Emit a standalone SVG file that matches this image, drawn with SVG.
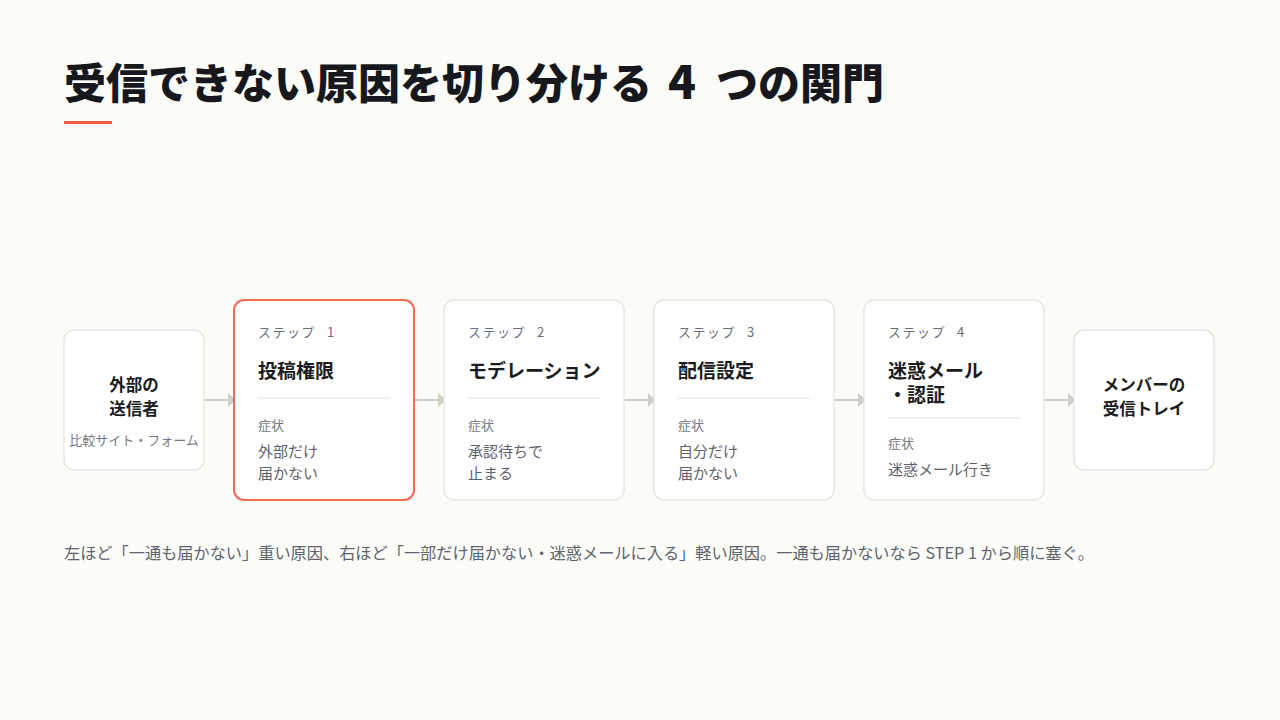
<svg xmlns="http://www.w3.org/2000/svg" width="1280" height="720" viewBox="0 0 1280 720">
<defs>
<style>
text{font-family:"Noto Sans CJK JP","Noto Sans",sans-serif;}
.title{font-size:42px;font-weight:900;fill:#17181d;}
.card{fill:#ffffff;stroke:#e8e8e2;stroke-width:1.5;}
.hl{fill:#ffffff;stroke:#f26a4f;stroke-width:2;}
.lbl{font-size:13px;fill:#6b6e76;letter-spacing:1.5px;}
.h{font-size:19px;font-weight:700;fill:#1b1c21;}
.nh{font-size:16.5px;font-weight:700;fill:#1b1c21;}
.sm{font-size:13px;fill:#777a82;}
.body{font-size:15px;fill:#5f626a;}
.div{stroke:#ececE6;stroke-width:1.5;}
.conn{stroke:#cfcfc7;stroke-width:2;fill:none;}
.cap{font-size:16.2px;fill:#5f636d;}
</style>
<marker id="arr" viewBox="0 0 8 14" refX="8" refY="7" markerWidth="8" markerHeight="14" markerUnits="userSpaceOnUse" orient="auto">
<path d="M0,0 L8,7 L0,14 Z" fill="#cfcfc7"/>
</marker>
</defs>
<rect width="1280" height="720" fill="#fbfbf7"/>
<text class="title" x="64" y="99">受信できない原因を切り分ける<tspan dx="16" font-size="46">4</tspan><tspan dx="20">つの関門</tspan></text>
<rect x="64" y="121" width="48" height="3" fill="#f15a3a"/>

<g id="connectors">
<line class="conn" x1="204" y1="400" x2="236" y2="400" marker-end="url(#arr)"/>
<line class="conn" x1="414" y1="400" x2="446" y2="400" marker-end="url(#arr)"/>
<line class="conn" x1="624" y1="400" x2="656" y2="400" marker-end="url(#arr)"/>
<line class="conn" x1="834" y1="400" x2="866" y2="400" marker-end="url(#arr)"/>
<line class="conn" x1="1044" y1="400" x2="1076" y2="400" marker-end="url(#arr)"/>
</g>

<g id="source">
<rect class="card" x="64" y="330" width="140" height="140" rx="10"/>
<text class="nh" x="134" y="391" text-anchor="middle">外部の</text>
<text class="nh" x="134" y="415" text-anchor="middle">送信者</text>
<text class="sm" x="134" y="445" text-anchor="middle">比較サイト・フォーム</text>
</g>

<g id="step1">
<rect class="hl" x="234" y="300" width="180" height="200" rx="10"/>
<text class="lbl" x="258" y="337">ステップ<tspan dx="11">1</tspan></text>
<text class="h" x="258" y="378">投稿権限</text>
<line class="div" x1="258" y1="398" x2="390" y2="398"/>
<text class="sm" x="258" y="430">症状</text>
<text class="body" x="258" y="457">外部だけ</text>
<text class="body" x="258" y="479">届かない</text>
</g>

<g id="step2">
<rect class="card" x="444" y="300" width="180" height="200" rx="10"/>
<text class="lbl" x="468" y="337">ステップ<tspan dx="11">2</tspan></text>
<text class="h" x="468" y="378">モデレーション</text>
<line class="div" x1="468" y1="398" x2="600" y2="398"/>
<text class="sm" x="468" y="430">症状</text>
<text class="body" x="468" y="457">承認待ちで</text>
<text class="body" x="468" y="479">止まる</text>
</g>

<g id="step3">
<rect class="card" x="654" y="300" width="180" height="200" rx="10"/>
<text class="lbl" x="678" y="337">ステップ<tspan dx="11">3</tspan></text>
<text class="h" x="678" y="378">配信設定</text>
<line class="div" x1="678" y1="398" x2="810" y2="398"/>
<text class="sm" x="678" y="430">症状</text>
<text class="body" x="678" y="457">自分だけ</text>
<text class="body" x="678" y="479">届かない</text>
</g>

<g id="step4">
<rect class="card" x="864" y="300" width="180" height="200" rx="10"/>
<text class="lbl" x="888" y="337">ステップ<tspan dx="11">4</tspan></text>
<text class="h" x="888" y="378">迷惑メール<tspan x="888" y="402">・認証</tspan></text>
<line class="div" x1="888" y1="418" x2="1020" y2="418"/>
<text class="sm" x="888" y="448">症状</text>
<text class="body" x="888" y="475">迷惑メール行き</text>
</g>

<g id="dest">
<rect class="card" x="1074" y="330" width="140" height="140" rx="10"/>
<text class="nh" x="1144" y="391" text-anchor="middle">メンバーの</text>
<text class="nh" x="1144" y="415" text-anchor="middle">受信トレイ</text>
</g>

<text class="cap" x="64" y="559">左ほど「一通も届かない」重い原因、右ほど「一部だけ届かない・迷惑メールに入る」軽い原因。一通も届かないなら STEP 1 から順に塞ぐ。</text>
</svg>
